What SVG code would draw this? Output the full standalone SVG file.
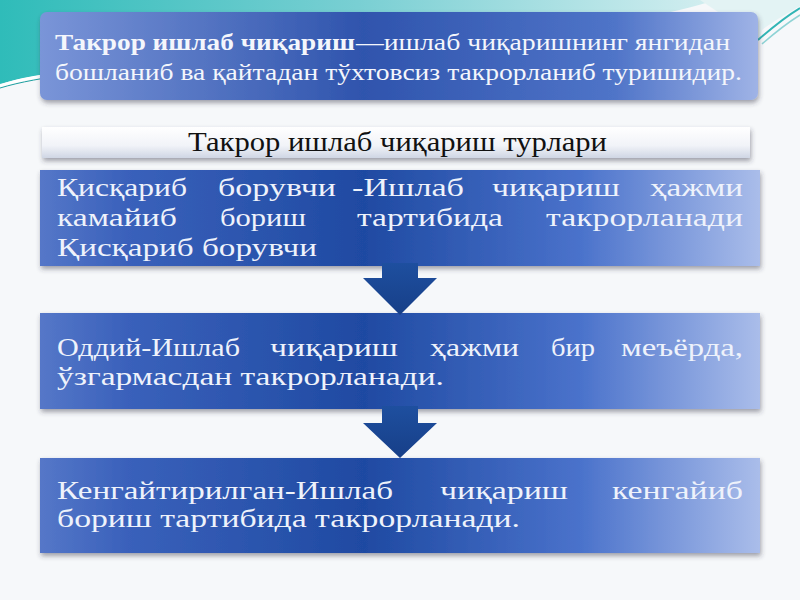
<svg xmlns="http://www.w3.org/2000/svg" width="800" height="600" viewBox="0 0 800 600">
<defs>
<style>
.bt{font-family:"Liberation Serif","DejaVu Serif",serif;font-size:26px;fill:#eef2fb}
.tt{font-family:"Liberation Serif","DejaVu Serif",serif;font-size:24px;fill:#f4f6fc}
.ti{font-family:"Liberation Serif","DejaVu Serif",serif;font-size:27px;fill:#111}
</style>
<linearGradient id="gBox" x1="0" y1="0" x2="1" y2="0">
<stop offset="0" stop-color="#5577c8"/>
<stop offset="0.12" stop-color="#3a61bb"/>
<stop offset="0.45" stop-color="#1f4aa2"/>
<stop offset="0.75" stop-color="#4a72cb"/>
<stop offset="1" stop-color="#aabdea"/>
</linearGradient>
<linearGradient id="gTop" x1="0" y1="0" x2="1" y2="0">
<stop offset="0" stop-color="#7a95d8"/>
<stop offset="0.45" stop-color="#2f54ad"/>
<stop offset="0.8" stop-color="#4f74c8"/>
<stop offset="1" stop-color="#9fb3e6"/>
</linearGradient>
<linearGradient id="gTitle" x1="0" y1="0" x2="0" y2="1">
<stop offset="0" stop-color="#ffffff"/>
<stop offset="0.6" stop-color="#f1f3f8"/>
<stop offset="1" stop-color="#cfd6e4"/>
</linearGradient>
<linearGradient id="gTeal" x1="0" y1="0" x2="1" y2="0">
<stop offset="0" stop-color="#2fbcb9"/>
<stop offset="0.5" stop-color="#79cfd3"/>
<stop offset="1" stop-color="#d3eef0"/>
</linearGradient>
<linearGradient id="gArrow" x1="0" y1="0" x2="0" y2="1">
<stop offset="0" stop-color="#1e4f9f"/>
<stop offset="1" stop-color="#173f88"/>
</linearGradient>
<filter id="sh" x="-5%" y="-20%" width="110%" height="150%">
<feDropShadow dx="1" dy="3" stdDeviation="2.5" flood-color="#334" flood-opacity="0.45"/>
</filter>
</defs>
<rect width="800" height="600" fill="#f6f8fa"/>
<path d="M0,0 H715 C640,25 420,58 220,62 C120,64 50,70 0,84 Z" fill="url(#gTeal)"/>
<path d="M0,86 C40,72 120,66 200,64" fill="none" stroke="#ffffff" stroke-width="3"/>
<path d="M0,88 C40,76 100,70 160,68" fill="none" stroke="#1d9f9f" stroke-width="1"/>
<path d="M700,0 L800,0 L800,6 C790,12 775,20 762,30 L760,40 Z" fill="#e3f3f4"/>
<path d="M758,40 C775,25 790,14 800,8" fill="none" stroke="#31b5b5" stroke-width="2"/>
<path d="M762,44 C778,30 792,20 800,15" fill="none" stroke="#8fd3d5" stroke-width="1.5"/>

<g id="node-definition">
<rect x="40" y="12" width="718" height="88" rx="7" fill="url(#gTop)" filter="url(#sh)"/>
<text class="tt" x="55" y="50" font-weight="bold" textLength="300" lengthAdjust="spacingAndGlyphs">Такрор ишлаб чиқариш</text>
<text class="tt" x="356" y="50" textLength="374" lengthAdjust="spacingAndGlyphs">—ишлаб чиқаришнинг янгидан</text>
<text class="tt" x="55" y="80" textLength="687" lengthAdjust="spacingAndGlyphs">бошланиб ва қайтадан тўхтовсиз такрорланиб туришидир.</text>
</g>

<g id="node-title">
<rect x="42" y="127" width="708" height="31" fill="url(#gTitle)" filter="url(#sh)"/>
<text class="ti" x="188" y="151" textLength="419" lengthAdjust="spacingAndGlyphs">Такрор ишлаб чиқариш турлари</text>
</g>

<g id="node-shrinking">
<rect x="40" y="170" width="720" height="96" fill="url(#gBox)" filter="url(#sh)"/>
<text class="bt" x="57" y="196" textLength="130" lengthAdjust="spacingAndGlyphs">Қисқариб</text>
<text class="bt" x="218" y="196" textLength="118" lengthAdjust="spacingAndGlyphs">борувчи</text>
<text class="bt" x="352" y="196" textLength="112" lengthAdjust="spacingAndGlyphs">-Ишлаб</text>
<text class="bt" x="492" y="196" textLength="128" lengthAdjust="spacingAndGlyphs">чиқариш</text>
<text class="bt" x="650" y="196" textLength="93" lengthAdjust="spacingAndGlyphs">ҳажми</text>
<text class="bt" x="57" y="226" textLength="120" lengthAdjust="spacingAndGlyphs">камайиб</text>
<text class="bt" x="220" y="226" textLength="86" lengthAdjust="spacingAndGlyphs">бориш</text>
<text class="bt" x="357" y="226" textLength="146" lengthAdjust="spacingAndGlyphs">тартибида</text>
<text class="bt" x="546" y="226" textLength="197" lengthAdjust="spacingAndGlyphs">такрорланади</text>
<text class="bt" x="57" y="256" textLength="260" lengthAdjust="spacingAndGlyphs">Қисқариб борувчи</text>
</g>

<g id="node-simple">
<rect x="40" y="313" width="720" height="96" fill="url(#gBox)" filter="url(#sh)"/>
<text class="bt" x="57" y="356" textLength="183" lengthAdjust="spacingAndGlyphs">Оддий-Ишлаб</text>
<text class="bt" x="270" y="356" textLength="128" lengthAdjust="spacingAndGlyphs">чиқариш</text>
<text class="bt" x="430" y="356" textLength="89" lengthAdjust="spacingAndGlyphs">ҳажми</text>
<text class="bt" x="551" y="356" textLength="44" lengthAdjust="spacingAndGlyphs">бир</text>
<text class="bt" x="621" y="356" textLength="122" lengthAdjust="spacingAndGlyphs">меъёрда,</text>
<text class="bt" x="57" y="385" textLength="387" lengthAdjust="spacingAndGlyphs">ўзгармасдан такрорланади.</text>
</g>

<g id="node-expanded">
<rect x="40" y="458" width="720" height="95" fill="url(#gBox)" filter="url(#sh)"/>
<text class="bt" x="57" y="499" textLength="336" lengthAdjust="spacingAndGlyphs">Кенгайтирилган-Ишлаб</text>
<text class="bt" x="440" y="499" textLength="128" lengthAdjust="spacingAndGlyphs">чиқариш</text>
<text class="bt" x="612" y="499" textLength="131" lengthAdjust="spacingAndGlyphs">кенгайиб</text>
<text class="bt" x="57" y="527" textLength="463" lengthAdjust="spacingAndGlyphs">бориш тартибида такрорланади.</text>
</g>

<g id="connectors">
<path d="M382,263 H418 V278 H437 L400,315 L363,278 H382 Z" fill="url(#gArrow)"/>
<path d="M382,406 H418 V423 H437 L400,458 L363,423 H382 Z" fill="url(#gArrow)"/>
</g>
</svg>
